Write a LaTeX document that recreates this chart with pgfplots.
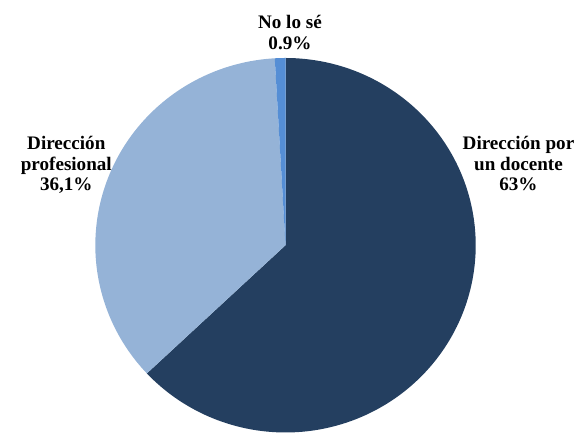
\documentclass[border=0pt]{standalone}
\usepackage{pgfplots}
\usepackage{pgfplotstable}
\pgfplotsset{compat=1.18}
\usepackage{fontspec}
\setmainfont{Liberation Serif}
\definecolor{cdark}{HTML}{243F60}
\definecolor{clight}{HTML}{95B3D7}
\definecolor{cmid}{HTML}{558ED5}
\pgfplotstableread{
value
63
36.1
0.9
}\piedata
\tikzset{lbl/.style={font=\bfseries\fontsize{19.5}{21}\selectfont, text=black, inner sep=0pt, anchor=base}}
\def\cx{280.5}\def\cy{190.5}\def\rx{193.5}\def\ry{190.5}
\begin{document}
\pgfplotstablegetelem{0}{value}\of\piedata \let\va\pgfplotsretval
\pgfplotstablegetelem{1}{value}\of\piedata \let\vb\pgfplotsretval
\pgfplotstablegetelem{2}{value}\of\piedata \let\vc\pgfplotsretval
\pgfmathsetmacro\aA{90}
\pgfmathsetmacro\aB{\aA-3.6*\va}
\pgfmathsetmacro\aC{\aB-3.6*\vb}
\pgfmathsetmacro\aD{\aC-3.6*\vc}
\begin{tikzpicture}
\begin{axis}[
  scale only axis, width=575bp, height=440bp,
  xmin=0, xmax=575, ymin=0, ymax=440,
  hide axis, clip=false
]
\addplot[fill=cdark, draw=none, domain=\aB:\aA, samples=150, variable=\t] ({\cx+\rx*cos(\t)},{\cy+\ry*sin(\t)}) -- (axis cs:\cx,\cy) -- cycle;
\addplot[fill=clight, draw=none, domain=\aC:\aB, samples=100, variable=\t] ({\cx+\rx*cos(\t)},{\cy+\ry*sin(\t)}) -- (axis cs:\cx,\cy) -- cycle;
\addplot[fill=cmid, draw=none, domain=\aD:\aC, samples=5, variable=\t] ({\cx+\rx*cos(\t)},{\cy+\ry*sin(\t)}) -- (axis cs:\cx,\cy) -- cycle;
\node[lbl] at (axis cs:285,410.7) {No lo sé};
\node[lbl] at (axis cs:285,390) {0.9\%};
\node[lbl] at (axis cs:57.5,288.3) {Dirección};
\node[lbl] at (axis cs:57.5,266.7) {profesional};
\node[lbl] at (axis cs:57.5,246) {36,1\%};
\node[lbl] at (axis cs:517.5,288.3) {Dirección por};
\node[lbl] at (axis cs:517.5,266.7) {un docente};
\node[lbl] at (axis cs:517.5,246) {63\%};
\end{axis}
\path (current axis.south west) rectangle (current axis.north east);
\end{tikzpicture}
\end{document}
